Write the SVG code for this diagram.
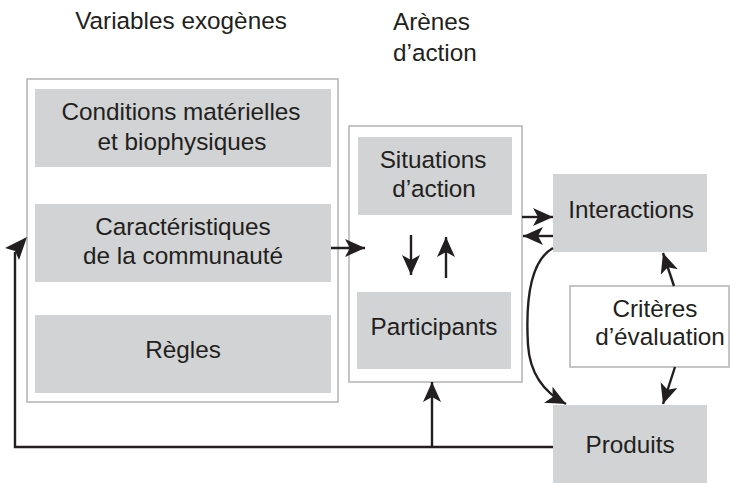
<svg xmlns="http://www.w3.org/2000/svg" width="730" height="483" viewBox="0 0 730 483">
<style>
text{font-family:"Liberation Sans",Arial,sans-serif;font-size:24.3px;fill:#231f20;text-anchor:middle}
.frame{fill:#fff;stroke:#b3b3b3;stroke-width:1.5}
.box{fill:#d1d3d4}
.wbox{fill:#fff;stroke:#b3b3b3;stroke-width:1.5}
.c{fill:none;stroke:#231f20;stroke-width:2.4}
</style>
<defs>
<marker id="ah" markerUnits="userSpaceOnUse" markerWidth="22" markerHeight="19" refX="20" refY="9" orient="auto">
<path d="M0,0 L20,9 L0,18 L5,9 z" fill="#231f20"/>
</marker>
</defs>
<rect width="730" height="483" fill="#fff"/>
<g id="title-exog"><text x="181" y="29">Variables exogènes</text></g>
<g id="title-arenes"><text x="393" y="30" style="text-anchor:start">Arènes</text><text x="393" y="61" style="text-anchor:start">d’action</text></g>
<g id="exogenes"><rect class="frame" x="27" y="79" width="311" height="323"/></g>
<g id="conditions"><rect class="box" x="35" y="89" width="296" height="78"/><text x="181" y="120">Conditions matérielles</text><text x="182" y="150">et biophysiques</text></g>
<g id="caracteristiques"><rect class="box" x="35" y="204" width="296" height="78"/><text x="183" y="235">Caractéristiques</text><text x="183" y="264">de la communauté</text></g>
<g id="regles"><rect class="box" x="35" y="315" width="296" height="78"/><text x="183" y="358">Règles</text></g>
<g id="arenes"><rect class="frame" x="349" y="126" width="173" height="256"/></g>
<g id="situations"><rect class="box" x="358" y="137" width="154" height="78"/><text x="433" y="168">Situations</text><text x="434" y="197">d’action</text></g>
<g id="participants"><rect class="box" x="357" y="292" width="154" height="77"/><text x="434" y="335">Participants</text></g>
<g id="interactions"><rect class="box" x="553" y="174" width="154" height="78"/><text x="631" y="218">Interactions</text></g>
<g id="criteres"><rect class="wbox" x="570" y="286" width="159" height="81"/><text x="655" y="317">Critères</text><text x="660" y="345">d’évaluation</text></g>
<g id="produits"><rect class="box" x="553" y="405" width="154" height="80"/><text x="630" y="453">Produits</text></g>
<g id="connectors">
<path class="c" d="M331,248 H365" marker-end="url(#ah)"/>
<path class="c" d="M411,235 V275" marker-end="url(#ah)"/>
<path class="c" d="M446,278 V237" marker-end="url(#ah)"/>
<path class="c" d="M522,217 H553" marker-end="url(#ah)"/>
<path class="c" d="M553,236 H523" marker-end="url(#ah)"/>
<path class="c" d="M553,248 C528,262 526,310 528,345 C530,375 545,393 566,404" marker-end="url(#ah)"/>
<path class="c" d="M674,286 L663,253" marker-end="url(#ah)"/>
<path class="c" d="M675,367 L663,404" marker-end="url(#ah)"/>
<path class="c" d="M553,447 H15 V252"/>
<polygon points="27,237 5,248 15,251 19,260" fill="#231f20"/>
<path class="c" d="M432,447 V382" marker-end="url(#ah)"/>
</g>
</svg>
